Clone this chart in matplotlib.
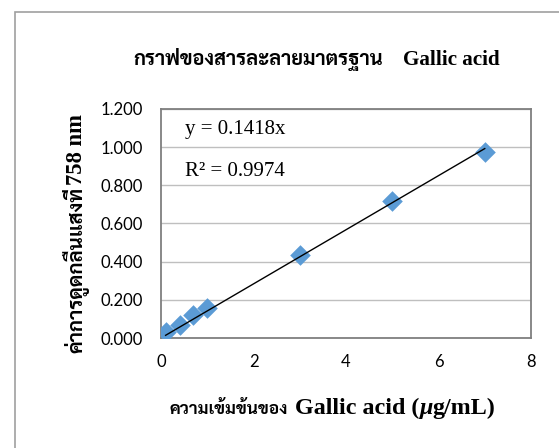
import matplotlib
matplotlib.use("Agg")
import matplotlib.pyplot as plt
from matplotlib.patches import Rectangle
from matplotlib.ticker import FormatStrFormatter, MultipleLocator

# data
concentration = [0.1, 0.4, 0.7, 1.0, 3.0, 5.0, 7.0]
absorbance = [0.030, 0.068, 0.120, 0.156, 0.435, 0.720, 0.973]
slope = 0.1418
eq_text = "y = 0.1418x"
r2_text = "R² = 0.9974"
title_th, title_en = "กราฟของสารละลายมาตรฐาน", "Gallic acid"
xlabel_th, xlabel_en = "ความเข้มข้นของ", ["Gallic acid (", "μ", "g/mL)"]
ylabel_th, ylabel_en = "ค่าการดูดกลืนแสงที่", "758 nm"

W, H = 559, 448
serif = ['Liberation Serif', 'FreeSerif']
thai = ['Sarabun', 'FreeSerif', 'Noto Serif Thai']

fig = plt.figure(figsize=(W / 100, H / 100), dpi=100)
fig.patches.append(Rectangle((15 / W, -0.1), 1.2, 1 - 12 / H + 0.1, transform=fig.transFigure,
                             fill=False, edgecolor='#a0a0a0', linewidth=1.2))

ax = fig.add_axes([161 / W, 1 - 338 / H, (531 - 161) / W, (338 - 109) / H])
ax.scatter(concentration, absorbance, marker='D', s=110, color='#5B9BD5', zorder=3, linewidths=0)
xs = [min(concentration), max(concentration)]
ax.plot(xs, [slope * v for v in xs], color='black', linewidth=1, zorder=4)

ax.set_xlim(0, 8)
ax.set_ylim(0, 1.2)
ax.xaxis.set_major_locator(MultipleLocator(2))
ax.yaxis.set_major_locator(MultipleLocator(0.2))
ax.yaxis.set_major_formatter(FormatStrFormatter('%.3f'))
ax.grid(axis='y', color='#bfbfbf', linewidth=1)
ax.set_axisbelow(True)
for s in ax.spines.values():
    s.set_color('#7f7f7f')
    s.set_linewidth(1.3)
ax.tick_params(length=0, labelsize=12)
ax.tick_params(axis='x', pad=11.5)
ax.tick_params(axis='y', pad=13)
for lab in ax.get_xticklabels() + ax.get_yticklabels():
    lab.set_family(['Lato', 'DejaVu Sans'])

fig.text(185 / W, 1 - 129 / H, eq_text, ha='left', va='center', family=serif, fontsize=15)
fig.text(185 / W, 1 - 171 / H, r2_text, ha='left', va='center', family=serif, fontsize=15)

fig.canvas.draw()
renderer = fig.canvas.get_renderer()


def put(text, x, y, size, family, rotation=0, target=None, style='normal'):
    """Place text with its start at pixel (x, y) on the baseline; return its length in px."""
    t = fig.text(x / W, 1 - y / H, text, ha='left', va='baseline', rotation=rotation,
                 rotation_mode='anchor', family=family, fontweight='bold', fontsize=size,
                 fontstyle=style)
    ext = t.get_window_extent(renderer)
    length = ext.width if rotation == 0 else ext.height
    if target is not None:
        t.set_fontsize(size * target / length)
        ext = t.get_window_extent(renderer)
        length = ext.width if rotation == 0 else ext.height
    return length


# title
put(title_th, 133, 65, 15, thai, target=250)
put(title_en, 403, 65, 15.2, serif)

# x label
put(xlabel_th, 170, 414, 15, thai, target=118)
x = 295
for i, part in enumerate(xlabel_en):
    x += put(part, x, 414, 17.3, serif, style='italic' if i == 1 else 'normal')

# y label (rotated)
put(ylabel_th, 82, 353, 14, thai, rotation=90, target=166)
put(ylabel_en, 82, 185, 16.3, serif, rotation=90)

fig.savefig("out.png", dpi=100)
